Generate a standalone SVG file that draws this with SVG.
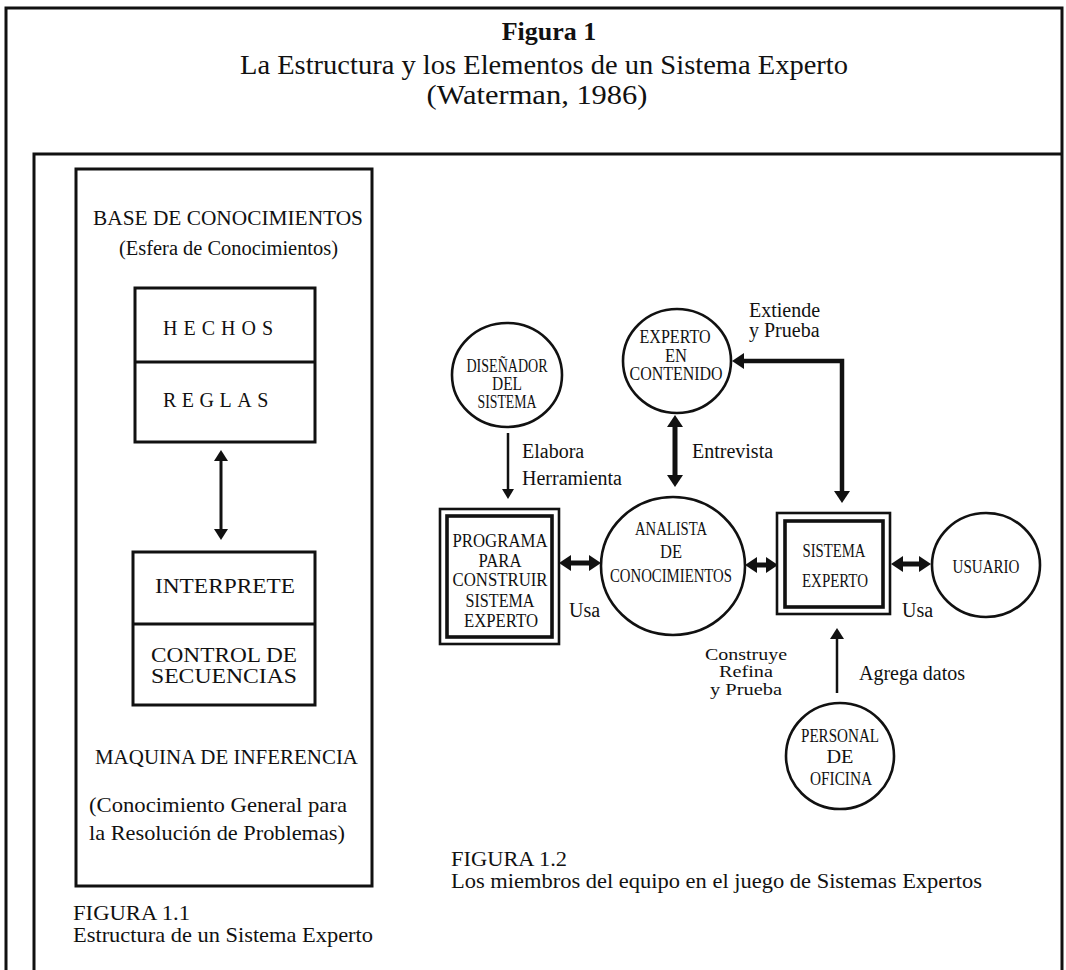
<svg xmlns="http://www.w3.org/2000/svg" width="1066" height="970" viewBox="0 0 1066 970">
<style>
text{font-family:"Liberation Serif","Times New Roman",serif;fill:#111}
.frame{fill:none;stroke:#111;stroke-width:3}
.box{fill:none;stroke:#111;stroke-width:3}
.circ{fill:#fff;stroke:#111;stroke-width:2.6}
.outer{fill:#fff;stroke:#111;stroke-width:2.6}
.inner{fill:none;stroke:#111;stroke-width:3.6}
.nt{font-size:18px;text-anchor:middle}
.lb{font-size:20px}
.lt{font-size:21px}
.thin{fill:none;stroke:#111;stroke-width:2.5}
.mid{fill:none;stroke:#111;stroke-width:3}
.thick{fill:none;stroke:#111;stroke-width:4.5}
.hv{fill:none;stroke:#111;stroke-width:5}
</style>
<defs>
<marker id="hs" viewBox="0 -6 10 12" refX="0" refY="0" markerWidth="10" markerHeight="12" markerUnits="userSpaceOnUse" orient="auto-start-reverse"><path d="M0,-6 L10,0 L0,6 z" fill="#111"/></marker>
<marker id="hm" viewBox="0 -7 11 14" refX="0" refY="0" markerWidth="11" markerHeight="14" markerUnits="userSpaceOnUse" orient="auto-start-reverse"><path d="M0,-7 L11,0 L0,7 z" fill="#111"/></marker>
<marker id="hb" viewBox="0 -8 12 16" refX="0" refY="0" markerWidth="12" markerHeight="16" markerUnits="userSpaceOnUse" orient="auto-start-reverse"><path d="M0,-8 L12,0 L0,8 z" fill="#111"/></marker>
</defs>
<rect width="1066" height="970" fill="#fff"/>
<g id="frames">
<path class="frame" d="M6,970 V8 H1062 V970"/>
<path class="frame" d="M34,970 V154 H1062"/>
</g>
<g id="title">
<text x="549" y="40" font-size="26" font-weight="bold" text-anchor="middle">Figura 1</text>
<text x="544" y="74" font-size="27" text-anchor="middle" textLength="608" lengthAdjust="spacingAndGlyphs">La Estructura y los Elementos de un Sistema Experto</text>
<text x="537" y="104" font-size="27" text-anchor="middle" textLength="221" lengthAdjust="spacingAndGlyphs">(Waterman, 1986)</text>
</g>
<g id="fig11">
<rect class="box" x="76" y="169" width="296" height="717"/>
<text class="lt" x="93" y="225" textLength="270" lengthAdjust="spacingAndGlyphs">BASE DE CONOCIMIENTOS</text>
<text class="lb" x="119" y="255" textLength="219" lengthAdjust="spacingAndGlyphs">(Esfera de Conocimientos)</text>
<g id="kb-box">
<rect class="box" x="135" y="288" width="180" height="154"/>
<line class="box" x1="135" y1="362" x2="315" y2="362"/>
<text class="lb" x="163" y="335" letter-spacing="6">HECHOS</text>
<text class="lb" x="163" y="407" letter-spacing="5.5">REGLAS</text>
</g>
<g id="ie-box">
<rect class="box" x="133" y="552" width="182" height="153"/>
<line class="box" x1="133" y1="624" x2="315" y2="624"/>
<text x="155" y="593" font-size="22" textLength="140" lengthAdjust="spacingAndGlyphs">INTERPRETE</text>
<text x="151" y="662" font-size="20" textLength="146" lengthAdjust="spacingAndGlyphs">CONTROL DE</text>
<text x="151" y="683" font-size="20" textLength="146" lengthAdjust="spacingAndGlyphs">SECUENCIAS</text>
</g>
<line class="mid" x1="221" y1="461" x2="221" y2="529" marker-start="url(#hm)" marker-end="url(#hm)"/>
<text class="lt" x="95" y="764" textLength="263" lengthAdjust="spacingAndGlyphs">MAQUINA DE INFERENCIA</text>
<text x="89" y="812" font-size="22" textLength="258" lengthAdjust="spacingAndGlyphs">(Conocimiento General para</text>
<text x="89" y="840" font-size="22" textLength="256" lengthAdjust="spacingAndGlyphs">la Resolución de Problemas)</text>
<text x="73" y="920" font-size="21" textLength="117" lengthAdjust="spacingAndGlyphs">FIGURA 1.1</text>
<text x="73" y="942" font-size="21" textLength="300" lengthAdjust="spacingAndGlyphs">Estructura de un Sistema Experto</text>
</g>
<g id="connectors">
<line class="thin" x1="508" y1="433" x2="508" y2="489" marker-end="url(#hs)"/>
<line class="hv" x1="675" y1="427" x2="675" y2="475" marker-start="url(#hb)" marker-end="url(#hb)"/>
<path class="thick" d="M744,361 H842 V491" marker-start="url(#hb)" marker-end="url(#hb)"/>
<line class="hv" x1="571" y1="563" x2="589" y2="563" marker-start="url(#hb)" marker-end="url(#hb)"/>
<line class="hv" x1="757" y1="565" x2="766" y2="565" marker-start="url(#hb)" marker-end="url(#hb)"/>
<line class="hv" x1="903" y1="564" x2="919" y2="564" marker-start="url(#hb)" marker-end="url(#hb)"/>
<line class="thin" x1="837" y1="693" x2="837" y2="639" marker-end="url(#hm)"/>
</g>
<g id="n-disenador">
<ellipse class="circ" cx="507" cy="375" rx="55" ry="52"/>
<text class="nt" x="507" y="372" textLength="81" lengthAdjust="spacingAndGlyphs">DISEÑADOR</text>
<text class="nt" x="507" y="390" textLength="30" lengthAdjust="spacingAndGlyphs">DEL</text>
<text class="nt" x="507" y="408" textLength="59" lengthAdjust="spacingAndGlyphs">SISTEMA</text>
</g>
<g id="n-experto">
<ellipse class="circ" cx="677" cy="361" rx="54" ry="52"/>
<text class="nt" x="675" y="343" textLength="71" lengthAdjust="spacingAndGlyphs">EXPERTO</text>
<text class="nt" x="676" y="362" textLength="22" lengthAdjust="spacingAndGlyphs">EN</text>
<text class="nt" x="676" y="380" textLength="93" lengthAdjust="spacingAndGlyphs">CONTENIDO</text>
</g>
<g id="n-programa">
<rect class="outer" x="440" y="509" width="119" height="135"/>
<rect class="inner" x="447" y="516" width="105" height="121"/>
<text class="nt" x="500" y="547" textLength="95" lengthAdjust="spacingAndGlyphs">PROGRAMA</text>
<text class="nt" x="500" y="567" textLength="43" lengthAdjust="spacingAndGlyphs">PARA</text>
<text class="nt" x="500" y="586" textLength="95" lengthAdjust="spacingAndGlyphs">CONSTRUIR</text>
<text class="nt" x="500" y="607" textLength="69" lengthAdjust="spacingAndGlyphs">SISTEMA</text>
<text class="nt" x="501" y="627" textLength="74" lengthAdjust="spacingAndGlyphs">EXPERTO</text>
</g>
<g id="n-analista">
<ellipse class="circ" cx="673" cy="566" rx="72" ry="69"/>
<text class="nt" x="671" y="535" textLength="72" lengthAdjust="spacingAndGlyphs">ANALISTA</text>
<text class="nt" x="671" y="558" textLength="22" lengthAdjust="spacingAndGlyphs">DE</text>
<text class="nt" x="671" y="582" textLength="122" lengthAdjust="spacingAndGlyphs">CONOCIMIENTOS</text>
</g>
<g id="n-sistema">
<rect class="outer" x="777" y="513" width="113" height="101"/>
<rect class="inner" x="785" y="521" width="98" height="86"/>
<text class="nt" x="834" y="557" textLength="63" lengthAdjust="spacingAndGlyphs">SISTEMA</text>
<text class="nt" x="835" y="587" textLength="66" lengthAdjust="spacingAndGlyphs">EXPERTO</text>
</g>
<g id="n-usuario">
<ellipse class="circ" cx="986" cy="565" rx="54" ry="52"/>
<text class="nt" x="986" y="573" textLength="67" lengthAdjust="spacingAndGlyphs">USUARIO</text>
</g>
<g id="n-personal">
<ellipse class="circ" cx="840" cy="756" rx="54" ry="53"/>
<text class="nt" x="840" y="742" textLength="78" lengthAdjust="spacingAndGlyphs">PERSONAL</text>
<text class="nt" x="840" y="763" textLength="27" lengthAdjust="spacingAndGlyphs">DE</text>
<text class="nt" x="841" y="785" textLength="62" lengthAdjust="spacingAndGlyphs">OFICINA</text>
</g>
<g id="labels">
<text class="lb" x="522" y="458">Elabora</text>
<text class="lb" x="522" y="485">Herramienta</text>
<text class="lb" x="692" y="458">Entrevista</text>
<text class="lb" x="749" y="317">Extiende</text>
<text class="lb" x="749" y="337">y Prueba</text>
<text class="lb" x="569" y="617">Usa</text>
<text class="lb" x="902" y="617">Usa</text>
<text x="746" y="660" font-size="16" text-anchor="middle" textLength="82" lengthAdjust="spacingAndGlyphs">Construye</text>
<text x="746" y="677" font-size="16" text-anchor="middle" textLength="54" lengthAdjust="spacingAndGlyphs">Refina</text>
<text x="746" y="695" font-size="16" text-anchor="middle" textLength="72" lengthAdjust="spacingAndGlyphs">y Prueba</text>
<text class="lb" x="859" y="680">Agrega datos</text>
<text x="451" y="866" font-size="20" textLength="116" lengthAdjust="spacingAndGlyphs">FIGURA 1.2</text>
<text x="451" y="888" font-size="20" textLength="531" lengthAdjust="spacingAndGlyphs">Los miembros del equipo en el juego de Sistemas Expertos</text>
</g>
</svg>
